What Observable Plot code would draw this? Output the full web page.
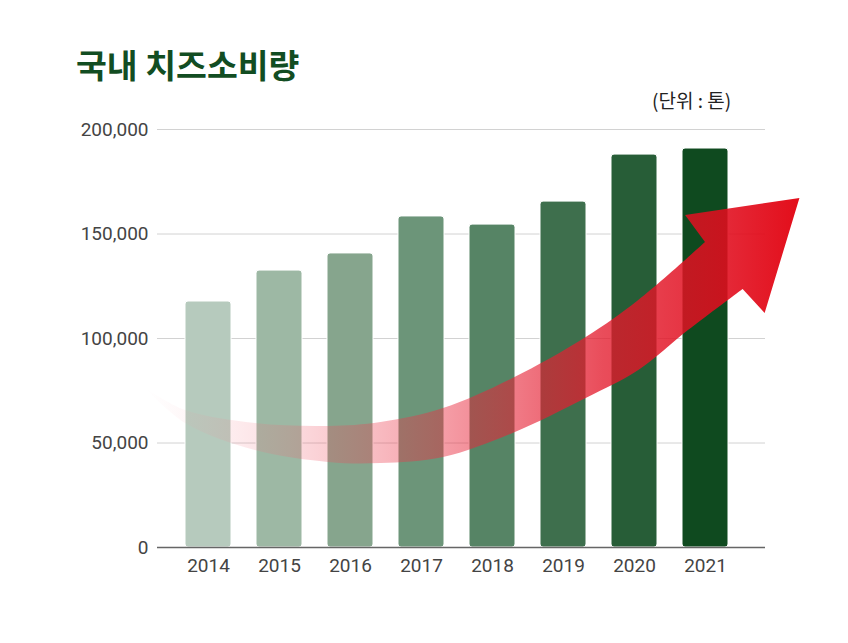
<!DOCTYPE html>
<html>
<head>
<meta charset="utf-8">
<script src="https://cdn.jsdelivr.net/npm/d3@7"></script>
<script src="https://cdn.jsdelivr.net/npm/@observablehq/plot@0.6"></script>
<style>
  body { margin: 0; background: #fff; }
  #wrap { position: relative; width: 848px; height: 643px; overflow: hidden; }
  #title { position: absolute; left: 76px; top: 47px; font-family: "Noto Sans CJK KR", "Noto Sans", sans-serif; font-weight: 700; font-size: 33.5px; line-height: 1; color: #124d22; white-space: nowrap; }
  #unit { position: absolute; left: 652px; top: 90px; font-family: "Noto Sans CJK KR", "Noto Sans", sans-serif; font-size: 19px; line-height: 1; color: #222; white-space: nowrap; }
  #chart { position: absolute; left: 0; top: 110px; }
</style>
</head>
<body>
<div id="wrap">
  <div id="title"></div>
  <div id="unit"></div>
  <div id="chart"></div>
</div>
<script>
// ---- data ----
const titleText = "국내 치즈소비량";
const unitText = "(단위 : 톤)";
const years = ["2014", "2015", "2016", "2017", "2018", "2019", "2020", "2021"];
const consumption = [117700, 132500, 140700, 158400, 154500, 165500, 188000, 190900];
const barColors = ["#b6cabd", "#9db8a4", "#86a58d", "#6c9579", "#568465", "#3e6f4d", "#275d37", "#0f4a1f"];
const yTicks = [0, 50000, 100000, 150000, 200000];

// decorative trend arrow, in data units: t = position in bar steps from the 2014 bar, v = value
const arrowUpperT = [-0.88, -0.32, 0.66, 1.69, 2.43, 3.31, 4.29, 5.32, 6.06, 7.0];
const arrowUpperV = [76000, 65500, 59300, 57900, 59800, 66500, 80900, 100500, 118200, 145900];
const arrowHeadT = [6.72, 8.33, 7.84];
const arrowHeadV = [158900, 167000, 112000];
const arrowLowerT = [7.53, 6.76, 6.06, 5.32, 4.29, 3.31, 2.43, 1.69, 0.66, -0.32, -0.88];
const arrowLowerV = [123500, 103800, 84700, 71300, 54600, 43100, 40200, 40700, 46400, 59300, 76000];

document.getElementById("title").textContent = titleText;
document.getElementById("unit").textContent = unitText;

const table = years.map((y, i) => ({ year: y, value: consumption[i], color: barColors[i] }));

const plot = Plot.plot({
  width: 848,
  height: 500,
  marginTop: 19,
  marginBottom: 63,
  marginLeft: 157,
  marginRight: 83,
  style: { fontFamily: "Roboto, 'Liberation Sans', sans-serif", fontSize: "19px", color: "#444", background: "transparent" },
  x: { domain: years, range: [183, 730], paddingInner: 0.357, paddingOuter: 0, label: null },
  y: { domain: [0, 200000], label: null },
  color: { type: "identity" },
  marks: [
    Plot.gridY(yTicks, { stroke: "#d2d2d2", strokeOpacity: 1 }),
    Plot.barY(table, { x: "year", y: "value", fill: "color", stroke: "#fff", strokeWidth: 1, rx: 3 }),
    Plot.ruleY([0], { stroke: "#666", strokeWidth: 1.6 }),
    Plot.axisY(yTicks, { tickSize: 0, tickPadding: 9, tickFormat: d3.format(","), fontSize: 19, fill: "#444", label: null }),
    Plot.axisX({ tickSize: 0, tickPadding: 11, fontSize: 19, fill: "#444", label: null })
  ]
});
document.getElementById("chart").appendChild(plot);

// ---- arrow through the plot's own scales ----
const xs = plot.scale("x"), ys = plot.scale("y");
const step = xs.apply(years[1]) - xs.apply(years[0]);
const x0 = xs.apply(years[0]) + xs.bandwidth / 2;
const px = t => x0 + t * step;
const py = v => ys.apply(v);
const upper = arrowUpperT.map((t, i) => [px(t), py(arrowUpperV[i])]);
const head = arrowHeadT.map((t, i) => [px(t), py(arrowHeadV[i])]);
const lower = arrowLowerT.map((t, i) => [px(t), py(arrowLowerV[i])]);
const curve = d3.line().curve(d3.curveCatmullRom.alpha(0.5));
const d = curve(upper) + head.map(p => "L" + p[0] + "," + p[1]).join("") + curve(lower).replace(/^M/, "L") + "Z";

const svg = d3.select(plot);
const defs = svg.append("defs");
const grad = defs.append("linearGradient").attr("id", "arrowGrad")
  .attr("x1", 0).attr("y1", 0).attr("x2", 1).attr("y2", 0);
[[0, "#f7a0ab", 0], [0.1, "#f58a97", 0.12], [0.3, "#ee4a5b", 0.3], [0.5, "#e8283c", 0.52],
 [0.7, "#e31a2c", 0.78], [0.88, "#e10d1e", 0.88], [1, "#e20613", 0.97]]
  .forEach(([o, c, a]) => grad.append("stop").attr("offset", o).attr("stop-color", c).attr("stop-opacity", a));
svg.append("path").attr("d", d).attr("fill", "url(#arrowGrad)");
</script>
</body>
</html>
